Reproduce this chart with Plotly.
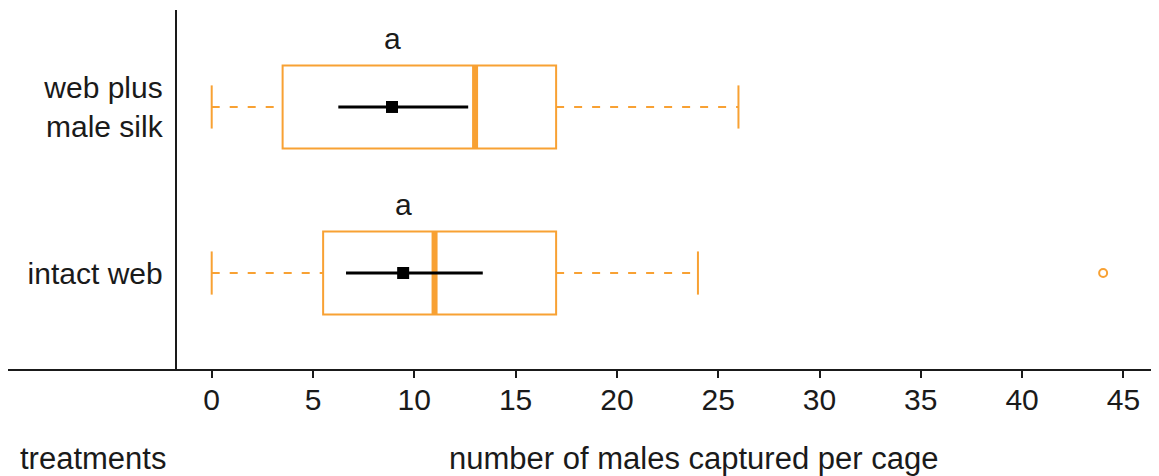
import plotly.graph_objects as go

# ---- data ----
treatments = ["intact web", "web plus<br>male silk"]
positions = [1, 2]
q1 = [5.5, 3.5]
median = [11.0, 13.0]
q3 = [17.0, 17.0]
lower_whisker = [0.0, 0.0]
upper_whisker = [24.0, 26.0]
means = [9.45, 8.9]
ci_low = [6.63, 6.25]
ci_high = [13.38, 12.66]
outliers_x = [44.0]
outliers_y = [1]
letters = ["a", "a"]
x_ticks = [0, 5, 10, 15, 20, 25, 30, 35, 40, 45]

ORANGE = "#F8A133"
INK = "#1a1a1a"
FONT = "Liberation Sans, Arial, sans-serif"
FS = 30

BOX_HALF = 0.25
CAP_HALF = 0.13

fig = go.Figure()
shapes = []
for i, p in enumerate(positions):
    # box
    shapes.append(dict(type="rect", xref="x", yref="y", x0=q1[i], x1=q3[i],
                       y0=p - BOX_HALF, y1=p + BOX_HALF,
                       line=dict(color=ORANGE, width=2), fillcolor="rgba(0,0,0,0)", layer="below"))
    # median
    shapes.append(dict(type="line", xref="x", yref="y", x0=median[i], x1=median[i],
                       y0=p - BOX_HALF, y1=p + BOX_HALF,
                       line=dict(color=ORANGE, width=6), layer="below"))
    # whiskers (dashed)
    shapes.append(dict(type="line", xref="x", yref="y", x0=lower_whisker[i], x1=q1[i],
                       y0=p, y1=p, line=dict(color=ORANGE, width=2, dash="8px,10px"), layer="below"))
    shapes.append(dict(type="line", xref="x", yref="y", x0=q3[i], x1=upper_whisker[i],
                       y0=p, y1=p, line=dict(color=ORANGE, width=2, dash="8px,10px"), layer="below"))
    # caps
    for w in (lower_whisker[i], upper_whisker[i]):
        shapes.append(dict(type="line", xref="x", yref="y", x0=w, x1=w,
                           y0=p - CAP_HALF, y1=p + CAP_HALF,
                           line=dict(color=ORANGE, width=2), layer="below"))

# means with confidence intervals
fig.add_trace(go.Scatter(
    x=means, y=positions, mode="markers",
    marker=dict(symbol="square", size=12, color="black"),
    error_x=dict(type="data", symmetric=False,
                 array=[h - m for h, m in zip(ci_high, means)],
                 arrayminus=[m - l for m, l in zip(means, ci_low)],
                 color="black", thickness=3, width=0),
    showlegend=False, hoverinfo="skip"))

# outliers
fig.add_trace(go.Scatter(
    x=outliers_x, y=outliers_y, mode="markers",
    marker=dict(symbol="circle-open", size=8, color=ORANGE, line=dict(width=2, color=ORANGE)),
    showlegend=False, hoverinfo="skip"))

annotations = []
for i, p in enumerate(positions):
    annotations.append(dict(x=means[i], y=p + 0.41, xref="x", yref="y", text=letters[i],
                            showarrow=False, font=dict(family=FONT, size=FS, color=INK),
                            xanchor="center", yanchor="middle"))

annotations.append(dict(x=0.0087, y=-0.248, xref="paper", yref="paper", text="treatments",
                        showarrow=False, font=dict(family=FONT, size=31, color=INK),
                        xanchor="left", yanchor="middle"))
annotations.append(dict(x=0.596, y=-0.248, xref="paper", yref="paper",
                        text="number of males captured per cage",
                        showarrow=False, font=dict(family=FONT, size=31, color=INK),
                        xanchor="center", yanchor="middle"))

fig.update_layout(
    width=1159, height=476,
    margin=dict(l=0, r=8, t=2, b=115, autoexpand=False),
    plot_bgcolor="white", paper_bgcolor="white",
    shapes=shapes, annotations=annotations,
    xaxis=dict(range=[-10.054, 46.757], tickvals=x_ticks, ticktext=[str(t) for t in x_ticks],
               showline=True, linecolor=INK, linewidth=2,
               ticks="outside", ticklen=7, tickwidth=2, tickcolor=INK,
               showgrid=False, zeroline=False, automargin=False,
               ticklabelstandoff=-4,
               tickfont=dict(family=FONT, size=FS, color=INK)),
    yaxis=dict(range=[0.422, 2.584], tickvals=positions, ticktext=treatments,
               anchor="free", position=0.1457,
               showline=True, linecolor=INK, linewidth=2,
               ticks="", showgrid=False, zeroline=False, automargin=False,
               ticklabelstandoff=6,
               tickfont=dict(family=FONT, size=FS, color=INK)),
    font=dict(family=FONT, color=INK),
)

fig.write_html("out.html")
